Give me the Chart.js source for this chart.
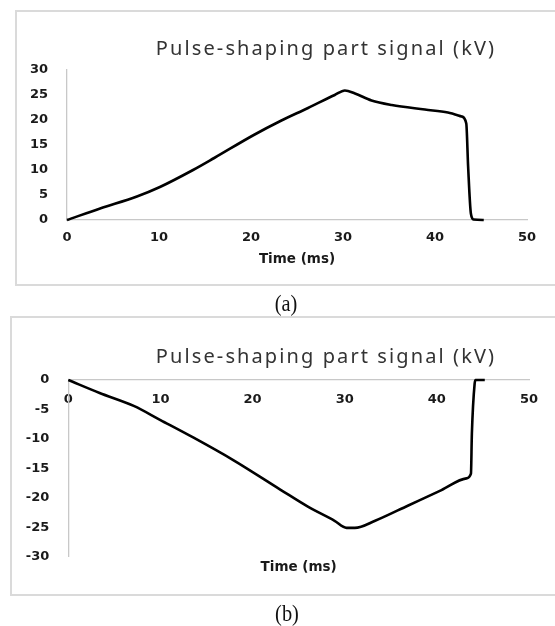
<!DOCTYPE html>
<html>
<head>
<meta charset="utf-8">
<script src="https://cdn.jsdelivr.net/npm/chart.js@4.4.1/dist/chart.umd.min.js"></script>
<style>
  html, body { margin: 0; padding: 0; background: #ffffff; overflow: hidden; width: 555px; height: 626px; }
  .frame { position: absolute; border: 2px solid #dadada; box-sizing: border-box; }
  canvas { position: absolute; left: 0; }
  .cap { position: absolute; font-family: 'Liberation Serif', serif; font-size: 24px; color: #111;
         width: 60px; text-align: center; transform: scaleX(0.85); line-height: 24px; }
</style>
</head>
<body>
<div class="frame" style="left:15px; top:10px; width:620px; height:276px;"></div>
<div class="frame" style="left:10px; top:316px; width:620px; height:280px;"></div>
<canvas id="chartA" width="555" height="292" style="top:0px;"></canvas>
<canvas id="chartB" width="555" height="326" style="top:300px;"></canvas>
<div class="cap" style="left:256px; top:291px;">(a)</div>
<div class="cap" style="left:257px; top:601px;">(b)</div>
<script>
// ---- data ----
const chartTitle = 'Pulse-shaping part signal (kV)';
const xAxisTitle = 'Time (ms)';
const xTicks = [0, 10, 20, 30, 40, 50];
const yTicksA = [0, 5, 10, 15, 20, 25, 30];
const yTicksB = [0, -5, -10, -15, -20, -25, -30];

// (a) positive pulse
const timeA = [0, 3.6, 7.6, 10.1, 13.7, 16.0, 20.3, 23.2, 26.2, 29.1, 30.2, 31.3, 33.1, 35.3, 38.9, 41.4, 42.9, 43.4, 43.6, 43.9, 44.2, 45.3];
const voltA = [0, 2.3, 4.7, 6.6, 10.0, 12.4, 17.0, 19.8, 22.4, 25.0, 25.9, 25.3, 23.9, 23.0, 22.1, 21.5, 20.7, 19.3, 10.7, 1.3, 0.1, 0];

// (b) negative pulse
const timeB = [0, 3.4, 7.1, 10.0, 13.6, 17.9, 23.0, 26.0, 28.9, 30.2, 31.1, 33.3, 36.9, 40.5, 43.2, 43.7, 43.8, 44.1, 44.2, 45.2];
const voltB = [0, -2.2, -4.4, -6.8, -9.8, -13.6, -18.6, -21.5, -23.9, -25.1, -25.1, -23.9, -21.3, -18.7, -16.7, -15.9, -9.1, -0.6, 0, 0];

// ---- helpers ----
const toPoints = (xs, ys) => xs.map((x, i) => ({ x: x, y: ys[i] }));
const tickFont = { family: 'DejaVu Sans', size: 13, weight: 'bold' };
const axisTitleFont = { family: 'DejaVu Sans', size: 13.5, weight: 'bold' };
const axisGray = '#c8c8c8';
const tickColor = '#1a1a1a';

// Place the chart title over a given x centre and give it the wide letter spacing of the original
const shiftTitle = {
  id: 'shiftTitle',
  afterLayout(chart, args, opts) {
    const t = chart.titleBlock;
    if (!t || !opts) return;
    if (opts.center != null) {
      const w = t.right - t.left;
      t.left = opts.center - w / 2;
      t.right = t.left + w;
    }
    if (!t._spacedDraw) {
      const orig = t.draw;
      t.draw = function (area) {
        const ctx = this.ctx;
        ctx.save();
        ctx.letterSpacing = (opts.spacing || 0) + 'px';
        orig.call(this, area);
        ctx.restore();
      };
      t._spacedDraw = true;
    }
  }
};

function lineDataset(xs, ys) {
  return {
    data: toPoints(xs, ys),
    borderColor: '#000000',
    borderWidth: 2.6,
    pointRadius: 0,
    fill: false,
    cubicInterpolationMode: 'monotone',
    clip: 6
  };
}

const titleOpts = (pt, pb) => ({
  display: true,
  text: chartTitle,
  color: '#333333',
  font: { family: 'Noto Sans', size: 20, weight: 'normal' },
  padding: { top: pt, bottom: pb }
});

// ---- chart (a) ----
new Chart(document.getElementById('chartA'), {
  type: 'line',
  data: { datasets: [lineDataset(timeA, voltA)] },
  plugins: [shiftTitle],
  options: {
    responsive: false,
    animation: false,
    devicePixelRatio: 1,
    layout: { padding: { left: 15, right: 28, top: 10, bottom: 22 } },
    plugins: {
      legend: { display: false },
      tooltip: { enabled: false },
      shiftTitle: { center: 326, spacing: 2.1 },
      title: titleOpts(27.6, 8.4)
    },
    scales: {
      x: {
        type: 'linear',
        position: 'bottom',
        min: 0, max: 50,
        afterFit: (s) => { s.height = 50; },
        afterBuildTicks: (s) => { s.ticks = xTicks.map(v => ({ value: v })); },
        grid: { display: false, drawTicks: false },
        border: { display: true, color: axisGray, width: 1.3 },
        ticks: { font: tickFont, color: tickColor, padding: 10, maxRotation: 0 },
        title: { display: true, text: xAxisTitle, color: tickColor, font: axisTitleFont, padding: { top: 0, bottom: 2.6 } }
      },
      y: {
        type: 'linear',
        min: 0, max: 30,
        afterFit: (s) => { s.width = 52; },
        afterBuildTicks: (s) => { s.ticks = yTicksA.map(v => ({ value: v })); },
        grid: { display: false, drawTicks: false },
        border: { display: true, color: axisGray, width: 1.3 },
        ticks: { font: tickFont, color: tickColor, padding: 19 }
      }
    }
  }
});

// ---- chart (b) ----
new Chart(document.getElementById('chartB'), {
  type: 'line',
  data: { datasets: [Object.assign(lineDataset(timeB, voltB), { xAxisID: 'x' })] },
  plugins: [shiftTitle],
  options: {
    responsive: false,
    animation: false,
    devicePixelRatio: 1,
    layout: { padding: { left: 15, right: 26, top: 16, bottom: 39.3 } },
    plugins: {
      legend: { display: false },
      tooltip: { enabled: false },
      shiftTitle: { center: 326, spacing: 2.1 },
      title: titleOpts(29.6, 10.4)
    },
    scales: {
      x: {
        type: 'linear',
        position: { y: 0 },
        min: 0, max: 50,
        afterBuildTicks: (s) => { s.ticks = xTicks.map(v => ({ value: v })); },
        grid: { display: false, drawTicks: false },
        border: { display: true, color: axisGray, width: 1.3 },
        ticks: { font: tickFont, color: tickColor, padding: 12, maxRotation: 0 }
      },
      x2: {
        type: 'linear',
        position: 'bottom',
        min: 0, max: 50,
        afterFit: (s) => { s.height = 30; },
        grid: { display: false, drawTicks: false },
        border: { display: false },
        ticks: { display: false },
        title: { display: true, text: xAxisTitle, color: tickColor, font: axisTitleFont, padding: { top: 0, bottom: 10.7 } }
      },
      y: {
        type: 'linear',
        min: -30, max: 0,
        afterFit: (s) => { s.width = 53.3; },
        afterBuildTicks: (s) => { s.ticks = yTicksB.map(v => ({ value: v })); },
        grid: { display: false, drawTicks: false },
        border: { display: true, color: axisGray, width: 1.3 },
        ticks: { font: tickFont, color: tickColor, padding: 19 }
      }
    }
  }
});
</script>
</body>
</html>
